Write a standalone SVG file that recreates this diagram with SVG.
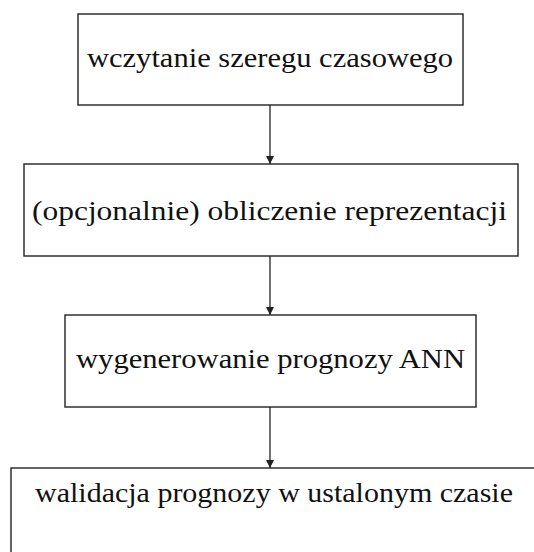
<svg xmlns="http://www.w3.org/2000/svg" width="534" height="552" viewBox="0 0 534 552">
<style>
.box{fill:#fff;stroke:#222;stroke-width:1.4}
.lbl{font-family:"Liberation Serif","DejaVu Serif",serif;font-size:27px;fill:#111}
.conn{stroke:#222;stroke-width:1.3;fill:none}
</style>
<defs>
<marker id="ah" viewBox="0 0 8 10" refX="8" refY="5" markerWidth="8" markerHeight="10" markerUnits="userSpaceOnUse" orient="auto">
<path d="M0,1 L8,5 L0,9 Z" fill="#222"/>
</marker>
</defs>
<rect width="534" height="552" fill="#fff"/>
<g id="connectors">
<line class="conn" x1="270" y1="105" x2="270" y2="164" marker-end="url(#ah)"/>
<line class="conn" x1="270" y1="256" x2="270" y2="315" marker-end="url(#ah)"/>
<line class="conn" x1="270" y1="407" x2="270" y2="468" marker-end="url(#ah)"/>
</g>
<g id="n1">
<rect class="box" x="78" y="14" width="385" height="91"/>
<text class="lbl" x="87" y="67" textLength="366" lengthAdjust="spacingAndGlyphs">wczytanie szeregu czasowego</text>
</g>
<g id="n2">
<rect class="box" x="24" y="164" width="494" height="92"/>
<text class="lbl" x="32" y="220" textLength="475" lengthAdjust="spacingAndGlyphs">(opcjonalnie) obliczenie reprezentacji</text>
</g>
<g id="n3">
<rect class="box" x="65" y="315" width="411" height="92"/>
<text class="lbl" x="76" y="368" textLength="389" lengthAdjust="spacingAndGlyphs">wygenerowanie prognozy ANN</text>
</g>
<g id="n4">
<rect class="box" x="11" y="468" width="540" height="100"/>
<text class="lbl" x="35" y="502" textLength="478" lengthAdjust="spacingAndGlyphs">walidacja prognozy w ustalonym czasie</text>
</g>
</svg>
